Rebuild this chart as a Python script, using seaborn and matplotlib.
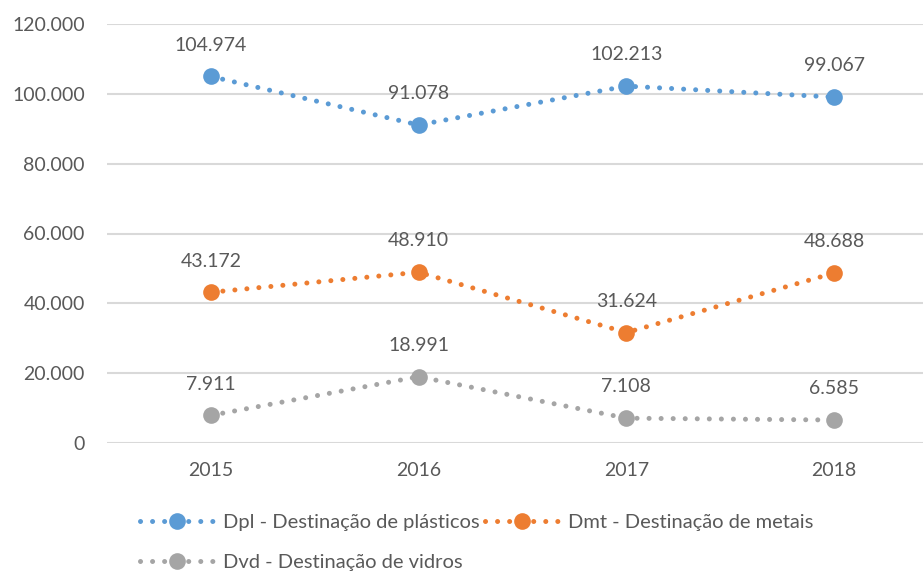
import matplotlib
matplotlib.use("Agg")
import matplotlib.pyplot as plt
from matplotlib.lines import Line2D
from matplotlib.ticker import FuncFormatter
import seaborn as sns
import pandas as pd

# Data
years = ["2015", "2016", "2017", "2018"]
series_names = [
    "Dpl - Destinação de plásticos",
    "Dmt - Destinação de metais",
    "Dvd - Destinação de vidros",
]
plasticos = [104974, 91078, 102213, 99067]
metais = [43172, 48910, 31624, 48688]
vidros = [7911, 18991, 7108, 6585]
colors = ["#5B9BD5", "#ED7D31", "#A5A5A5"]

df = pd.DataFrame({
    "ano": years * 3,
    "valor": plasticos + metais + vidros,
    "serie": [s for s in series_names for _ in years],
})

sns.set_theme(style="white")
plt.rcParams["font.family"] = ["Lato", "DejaVu Sans"]
text_color = "#595959"

fig = plt.figure(figsize=(9.23, 5.72), dpi=100)
ax = fig.add_axes([107 / 923, 129 / 572, 831 / 923, 419 / 572])

palette = dict(zip(series_names, colors))
sns.lineplot(
    data=df, x="ano", y="valor", hue="serie", style="serie",
    palette=palette,
    dashes={s: (0.01, 2.4) for s in series_names},
    markers={s: "o" for s in series_names},
    markersize=12, markeredgewidth=0, linewidth=3.6,
    sort=False, legend=False, ax=ax,
)
for ln in ax.get_lines():
    ln.set_dash_capstyle("round")

# Value labels above each point
for name, vals in zip(series_names, [plasticos, metais, vidros]):
    for i, v in enumerate(vals):
        lbl = f"{v:,}".replace(",", ".")
        ax.annotate(lbl, (i, v), xytext=(0, 22.5), textcoords="offset points",
                    ha="center", va="center", fontsize=14, color=text_color)

ax.set_xlim(-0.5, 3.5)
ax.set_ylim(0, 120000)
ax.set_yticks(range(0, 120001, 20000))
ax.yaxis.set_major_formatter(FuncFormatter(lambda v, p: f"{int(v):,}".replace(",", ".")))
ax.grid(axis="y", color="#D9D9D9", linewidth=1.5)
ax.grid(axis="x", visible=False)
ax.set_axisbelow(True)
for sp in ax.spines.values():
    sp.set_visible(False)
ax.tick_params(axis="y", length=0, pad=16, labelsize=14, labelcolor=text_color)
ax.tick_params(axis="x", length=0, pad=14, labelsize=14, labelcolor=text_color)
ax.set_xlabel("")
ax.set_ylabel("")

handles = [
    Line2D([0], [0], color=c, linestyle=(0, (0.01, 2.4)), linewidth=3.6,
           dash_capstyle="round", marker="o", markersize=12, markeredgewidth=0)
    for c in colors
]
# legend fills column-wise: order entries so rows read plásticos, metais / vidros
order = [0, 2, 1]
fig.legend([handles[i] for i in order], [series_names[i] for i in order],
           loc="upper left", bbox_to_anchor=(140 / 923, 1 - 514 / 572),
           ncol=2, frameon=False, fontsize=14.5, labelcolor=text_color,
           handlelength=3.7, handletextpad=0.4, columnspacing=0.3, labelspacing=1.15,
           borderaxespad=0, borderpad=0)

fig.savefig("out.png", dpi=100)
